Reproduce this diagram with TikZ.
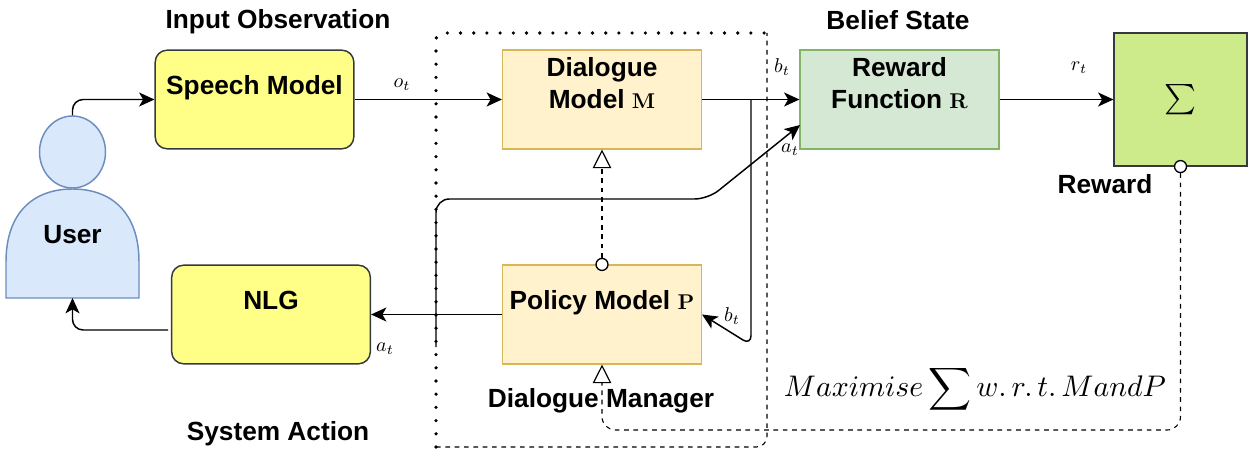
\documentclass[tikz,border=0pt]{standalone}
\usepackage[no-math]{fontspec}
\usepackage{amsmath}
\usepackage{graphicx}
\usetikzlibrary{arrows.meta,shapes.geometric}
\newfontfamily\boxfont{Liberation Sans}
\definecolor{speechfill}{HTML}{FFFF88}
\definecolor{speechdraw}{HTML}{36393D}
\definecolor{modelfill}{HTML}{FFF2CC}
\definecolor{modeldraw}{HTML}{D6B656}
\definecolor{rewardfill}{HTML}{D5E8D4}
\definecolor{rewarddraw}{HTML}{82B366}
\definecolor{sumfill}{HTML}{CDEB8B}
\definecolor{userfill}{HTML}{DAE8FC}
\definecolor{userdraw}{HTML}{6C8EBF}
\newcommand{\boldsym}[1]{\scalebox{1.6}{\normalsize$\mathbf{#1}$}}
\begin{document}
\begin{tikzpicture}[x=0.75pt,y=-0.75pt,>={Stealth[length=11.5pt,width=10.5pt,inset=3pt]},
                    line width=1.1pt]
  \tikzstyle{every node}=[font=\boxfont\bfseries\fontsize{19.7}{24}\selectfont]
  \tikzstyle{block}=[rectangle,minimum width=149pt,minimum height=74pt,inner sep=0pt,
    align=center,text height=15pt,text depth=23pt]
  \tikzstyle{twoline}=[block,text height=39pt,text depth=25.5pt]
  \tikzstyle{speech}=[block,fill=speechfill,draw=speechdraw,rounded corners=9pt]
  \tikzstyle{model}=[fill=modelfill,draw=modeldraw]
  \tikzstyle{var}=[font=\normalsize,scale=1.5,inner sep=0pt]
  \tikzstyle{port}=[circle,draw,fill=white,inner sep=0pt,minimum size=9pt,line width=1pt]
  \tikzstyle{link}=[dash pattern=on 3.5pt off 3.5pt,line width=.8pt,
    -{Triangle[length=14pt,width=14pt,fill=white,line width=.9pt]}]
  \useasboundingbox (0,0) rectangle (1249,449);
  \draw[dash pattern=on 0pt off 9.9pt,line cap=round,line width=2.7pt,rounded corners=5pt]
    (436,447) -- (436,33) -- (767,33);
  \draw[dash pattern=on 3.5pt off 3.5pt,line width=.8pt,rounded corners=8pt]
    (436,447) -- (767,447) -- (767,33);
  \draw[fill=userfill,draw=userdraw]
    (6,298) -- (6,262) .. controls (6,212) and (34,189) .. (72.5,189)
    .. controls (111,189) and (139,212) .. (139,262) -- (139,298) -- cycle;
  \node[ellipse,fill=userfill,draw=userdraw,minimum width=49.5pt,minimum height=54pt,inner sep=0pt] (head) at (72.5,152) {};
  \node (user) at (72.5,235) {User};
  \coordinate (userbase) at (72.5,298);
  \node[speech] (speechmodel) at (254.5,99.5) {Speech Model};
  \node[speech] (nlg) at (271,314.5) {NLG};
  \node[twoline,model] (dialogue) at (602,99.5) {Dialogue\\Model \boldsym{M}};
  \node[block,model] (policy) at (602,314.5) {Policy Model \boldsym{P}};
  \node[twoline,fill=rewardfill,draw=rewarddraw] (reward) at (899.5,99.5) {Reward\\Function \boldsym{R}};
  \node[rectangle,fill=sumfill,draw=speechdraw,minimum size=99.5pt,inner sep=0pt] (sum) at (1180.5,99.5)
    {\scalebox{2.27}{\normalsize$\sum$}};
  \node (inputlabel) at (278,22) {Input Observation};
  \node (belieflabel) at (898,20) {Belief State};
  \node (rewardlabel) at (1105,184) {Reward};
  \node (actionlabel) at (278,434) {System Action};
  \node (managerlabel) at (601,401) {Dialogue Manager};
  \node[var] (ot) at (402,85) {$o_t$};
  \node[var] (bt1) at (782,67) {$b_t$};
  \node[var] (at1) at (790,150) {$a_t$};
  \node[var] (bt2) at (732,316) {$b_t$};
  \node[var] (at2) at (385,349) {$a_t$};
  \node[var] (rt) at (1079,68) {$r_t$};
  \node[var,scale=1.49] (goal) at (975,389)
    {$\displaystyle Maximise\sum w.\,r.\,t.\,MandP$};
  \node[port] (policyport) at (policy.north) {};
  \node[port] (sumport) at (sum.south) {};
  \coordinate (split) at (751,99.5);
  \coordinate (bend) at (751,345);
  \coordinate (rewardin) at (800,125);
  \coordinate (afoot) at (436,347);
  \coordinate (atop) at (436,199);
  \coordinate (arun) at (708,199);
  \coordinate (nlgout) at (168,330);
  \coordinate (backcorner) at (1180.5,430);
  \coordinate (backturn) at (602,430);
  \draw[->,rounded corners=8pt] (head.north) |- (speechmodel.west);
  \draw[->,rounded corners=8pt] (nlgout) -| (userbase);
  \draw[->] (speechmodel.east) -- (dialogue.west);
  \draw[->] (dialogue.east) -- (reward.west);
  \draw[->] (reward.east) -- (sum.west);
  \draw[->] (policy.west) -- (nlg.east);
  \draw[->,rounded corners=7pt] (split) -- (bend) -- (policy.east);
  \draw[->,rounded corners=10pt] (afoot) -- (atop) -- (arun) -- (rewardin);
  \draw[link] (policyport) -- (dialogue.south);
  \draw[link,rounded corners=10pt] (sumport) -- (backcorner) -- (backturn) -- (policy.south);
\end{tikzpicture}
\end{document}
